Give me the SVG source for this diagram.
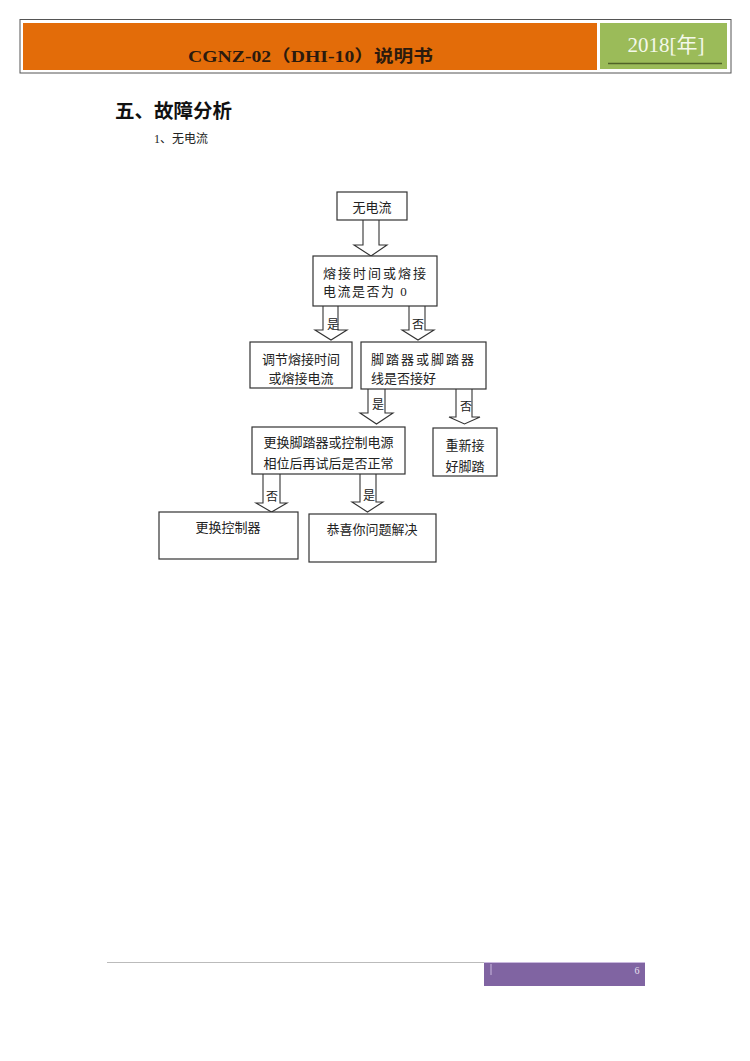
<svg xmlns="http://www.w3.org/2000/svg" width="750" height="1061" viewBox="0 0 750 1061">
<style>
.box{fill:#fff;stroke:#333;stroke-width:1.2}
.arr{fill:#fff;stroke:#333;stroke-width:1.1;stroke-linejoin:miter}
.t{font-family:"Liberation Serif","Noto Sans CJK SC",serif;font-size:13px;fill:#222}
.lb{font-family:"Liberation Serif","Noto Sans CJK SC",serif;font-size:12px;fill:#222;text-anchor:middle}
</style>
<rect width="750" height="1061" fill="#fff"/>
<g id="header">
<rect x="20" y="19.5" width="711" height="53.5" fill="#fff" stroke="#555" stroke-width="1"/>
<rect x="23" y="23" width="574" height="47" fill="#e36c09"/>
<rect x="600" y="23" width="127" height="46" fill="#9bbb59"/>
<line x1="608" y1="63.5" x2="722" y2="63.5" stroke="#4f6228" stroke-width="1.5"/>
<text x="188" y="62" font-family="Liberation Serif,'Noto Sans CJK SC',serif" font-weight="bold" font-size="16.5" fill="#2b1a0e" textLength="245" lengthAdjust="spacingAndGlyphs">CGNZ-02（DHI-10）说明书</text>
<text x="666" y="52" text-anchor="middle" font-family="Liberation Serif,'Noto Sans CJK SC',serif" font-size="21" fill="#f4f8ea">2018[年]</text>
</g>
<g id="headings">
<text x="115" y="118" font-family="'Noto Sans CJK SC',sans-serif" font-weight="bold" font-size="19.5" fill="#111">五、故障分析</text>
<text x="154" y="143" font-family="Liberation Serif,'Noto Sans CJK SC',serif" font-size="12" fill="#222">1、无电流</text>
</g>
<g id="connectors">
<path class="arr" d="M363,220 V245 H354 L371,256 L387,245 H379 V220"/>
<path class="arr" d="M323,306 V330 H315 L331,340 L347,330 H338 V306"/>
<path class="arr" d="M409,306 V330 H402 L418,340 L434,330 H425 V306"/>
<path class="arr" d="M368,388 V413 H360 L376.5,424 L393,413 H385 V388"/>
<path class="arr" d="M456,388 V417 H449 L464.5,424 L480,417 H472 V388"/>
<path class="arr" d="M263,474 V503 H256 L271.5,512 L287,503 H280 V474"/>
<path class="arr" d="M360,474 V502 H352 L367.5,512 L383,502 H376 V474"/>
<text class="lb" x="333" y="329">是</text>
<text class="lb" x="418" y="329">否</text>
<text class="lb" x="378" y="409">是</text>
<text class="lb" x="466" y="411">否</text>
<text class="lb" x="272" y="501">否</text>
<text class="lb" x="369" y="500">是</text>
</g>
<g id="n1"><rect class="box" x="337" y="192" width="70" height="28"/><text class="t" x="372" y="212" text-anchor="middle">无电流</text></g>
<g id="n2"><rect class="box" x="313" y="256" width="124" height="50"/>
<text class="t" x="323" y="278" letter-spacing="2">熔接时间或熔接</text>
<text class="t" x="323" y="296" letter-spacing="1.5">电流是否为 0</text></g>
<g id="n3"><rect class="box" x="250" y="342" width="102" height="46"/>
<text class="t" x="301" y="364" text-anchor="middle">调节熔接时间</text>
<text class="t" x="301" y="383" text-anchor="middle">或熔接电流</text></g>
<g id="n4"><rect class="box" x="361" y="342" width="125" height="47"/>
<text class="t" x="371" y="364" letter-spacing="2">脚踏器或脚踏器</text>
<text class="t" x="371" y="383">线是否接好</text></g>
<g id="n5"><rect class="box" x="252" y="427" width="153" height="47"/>
<text class="t" x="328.5" y="447" text-anchor="middle">更换脚踏器或控制电源</text>
<text class="t" x="328.5" y="468" text-anchor="middle">相位后再试后是否正常</text></g>
<g id="n6"><rect class="box" x="433" y="428" width="64" height="48"/>
<text class="t" x="465" y="450" text-anchor="middle">重新接</text>
<text class="t" x="465" y="471" text-anchor="middle">好脚踏</text></g>
<g id="n7"><rect class="box" x="159" y="512" width="139" height="47"/>
<text class="t" x="228" y="532" text-anchor="middle">更换控制器</text></g>
<g id="n8"><rect class="box" x="309" y="514" width="127" height="48"/>
<text class="t" x="372" y="534" text-anchor="middle">恭喜你问题解决</text></g>
<g id="footer">
<line x1="107" y1="962.5" x2="484" y2="962.5" stroke="#bbb" stroke-width="1"/>
<rect x="484" y="962" width="161" height="24" fill="#8064a2"/>
<line x1="484" y1="962.5" x2="645" y2="962.5" stroke="#c9b8de" stroke-width="1"/>
<line x1="491" y1="964" x2="491" y2="975" stroke="#c9b8de" stroke-width="1"/>
<text x="637" y="974" text-anchor="middle" font-family="Liberation Serif,serif" font-size="10" fill="#e8e0f0">6</text>
</g>
</svg>
